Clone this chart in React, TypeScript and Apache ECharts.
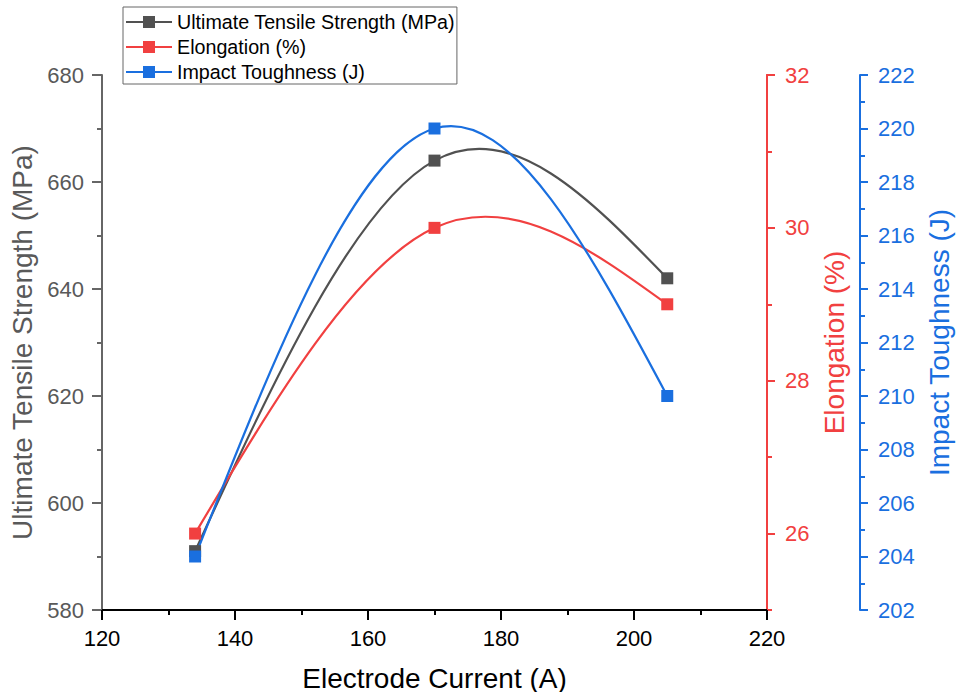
import React, { useEffect, useRef } from "react";
import * as echarts from "echarts";

const current = [134, 170, 205];
const uts = [591, 664, 642];
const elongation = [26.0, 30.0, 29.0];
const impact = [204, 220, 210];

const seriesNames = ["Ultimate Tensile Strength (MPa)", "Elongation (%)", "Impact Toughness (J)"];
const xTicks = { min: 120, max: 220, interval: 20 };
const utsTicks = { min: 580, max: 680, interval: 20 };
const elongTicks = { min: 25, max: 32, major: [26, 28, 30, 32] };
const impactTicks = { min: 202, max: 222, interval: 2 };

const C_GRAY = "#515151";
const C_RED = "#F14040";
const C_BLUE = "#1A6FDF";
const FONT = "'Liberation Sans', Arial, sans-serif";

// Natural cubic spline through the points, returned as cubic Bezier segments (data space)
function splineSegments(xs: number[], ys: number[]) {
  const n = xs.length;
  const h: number[] = [];
  const M: number[] = new Array(n).fill(0);
  for (let i = 0; i < n - 1; i++) h[i] = xs[i + 1] - xs[i];
  if (n > 2) {
    const a: number[] = [], b: number[] = [], c: number[] = [], d: number[] = [];
    for (let i = 1; i < n - 1; i++) {
      a.push(h[i - 1]);
      b.push(2 * (h[i - 1] + h[i]));
      c.push(h[i]);
      d.push(6 * ((ys[i + 1] - ys[i]) / h[i] - (ys[i] - ys[i - 1]) / h[i - 1]));
    }
    const m = b.length;
    for (let i = 1; i < m; i++) {
      const w = a[i] / b[i - 1];
      b[i] -= w * c[i - 1];
      d[i] -= w * d[i - 1];
    }
    const sol: number[] = new Array(m);
    sol[m - 1] = d[m - 1] / b[m - 1];
    for (let i = m - 2; i >= 0; i--) sol[i] = (d[i] - c[i] * sol[i + 1]) / b[i];
    for (let i = 0; i < m; i++) M[i + 1] = sol[i];
  }
  const segs: number[][][] = [];
  for (let i = 0; i < n - 1; i++) {
    const hi = h[i];
    const s = (ys[i + 1] - ys[i]) / hi;
    const d0 = s - (hi * (2 * M[i] + M[i + 1])) / 6;
    const d1 = s + (hi * (M[i] + 2 * M[i + 1])) / 6;
    segs.push([
      [xs[i], ys[i]],
      [xs[i] + hi / 3, ys[i] + (d0 * hi) / 3],
      [xs[i + 1] - hi / 3, ys[i + 1] - (d1 * hi) / 3],
      [xs[i + 1], ys[i + 1]],
    ]);
  }
  return segs;
}

export default function App() {
  const ref = useRef<HTMLDivElement>(null);
  useEffect(() => {
    if (!ref.current) return;
    const chart = echarts.init(ref.current, null, { renderer: "svg" });
    const pairs = (ys: number[]) => current.map((x, i) => [x, ys[i]]);

    const curveSeries = (name: string, data: number[], color: string, yAxisIndex: number) => {
      const segs = splineSegments(current, data);
      return {
        name: name + " curve",
        type: "custom",
        yAxisIndex,
        silent: true,
        data: [[current[0], data[0]]],
        renderItem: (_params: any, api: any) => ({
          type: "group",
          children: segs.map((sg) => {
            const p = sg.map((q) => api.coord(q));
            return {
              type: "bezierCurve",
              shape: {
                x1: p[0][0], y1: p[0][1],
                cpx1: p[1][0], cpy1: p[1][1],
                cpx2: p[2][0], cpy2: p[2][1],
                x2: p[3][0], y2: p[3][1],
              },
              style: { stroke: color, lineWidth: 2.2, fill: "none" },
            };
          }),
        }),
      };
    };

    const pointSeries = (name: string, data: number[], color: string, yAxisIndex: number) => ({
      name,
      type: "line",
      yAxisIndex,
      data: pairs(data),
      symbol: "rect",
      symbolSize: 12,
      itemStyle: { color },
      lineStyle: { color, width: 2, opacity: 0 },
    });

    const axisCommon = (color: string, labelColor: string, tickLen: number) => ({
      type: "value",
      splitLine: { show: false },
      axisLine: { show: true, onZero: false, lineStyle: { color, width: 2 } },
      axisTick: { show: true, inside: false, length: tickLen, lineStyle: { color, width: 2 } },
      minorTick: { show: true, splitNumber: 2, length: 5, lineStyle: { color, width: 2 } },
      axisLabel: { color: labelColor, fontSize: 22, fontFamily: FONT, margin: 18 },
      nameLocation: "middle",
      nameTextStyle: { color: labelColor, fontSize: 28, fontFamily: FONT },
    });

    chart.setOption({
      animation: false,
      backgroundColor: "#ffffff",
      textStyle: { fontFamily: FONT },
      grid: { left: 102, right: 195, top: 75, bottom: 82, outerBoundsMode: "none", containLabel: false },
      legend: {
        orient: "vertical",
        left: 123,
        top: 7,
        padding: [4, 2, 1, 2],
        itemGap: 3,
        itemWidth: 46,
        itemHeight: 15,
        borderColor: "#666",
        borderWidth: 1,
        borderRadius: 0,
        lineStyle: { opacity: 1, width: 2 },
        textStyle: { color: "#000", fontSize: 19.7, fontFamily: FONT, lineHeight: 22 },
        data: seriesNames,
      },
      xAxis: {
        ...axisCommon("#000", "#000", 10),
        min: xTicks.min,
        max: xTicks.max,
        interval: xTicks.interval,
        axisLabel: { color: "#000", fontSize: 22, fontFamily: FONT, margin: 17 },
        name: "Electrode Current (A)",
        nameGap: 54,
      },
      yAxis: [
        {
          ...axisCommon("#666", "#595959", 10),
          position: "left",
          min: utsTicks.min,
          max: utsTicks.max,
          interval: utsTicks.interval,
          name: seriesNames[0],
          nameGap: 60,
        },
        {
          ...axisCommon(C_RED, C_RED, 5),
          position: "right",
          offset: 0,
          min: elongTicks.min,
          max: elongTicks.max,
          interval: 1,
          minorTick: { show: false },
          axisLabel: {
            color: C_RED,
            fontSize: 22,
            fontFamily: FONT,
            margin: 18,
            formatter: (v: number) => (elongTicks.major.includes(v) ? String(v) : ""),
          },
          name: seriesNames[1],
          nameGap: 50,
        },
        {
          ...axisCommon(C_BLUE, C_BLUE, 8),
          position: "right",
          offset: 93,
          min: impactTicks.min,
          max: impactTicks.max,
          interval: impactTicks.interval,
          name: seriesNames[2],
          nameGap: 64,
        },
        {
          type: "value",
          position: "right",
          offset: 0,
          min: elongTicks.min,
          max: elongTicks.max,
          splitLine: { show: false },
          axisLine: { show: true, onZero: false, lineStyle: { color: C_RED, width: 2 } },
          axisTick: {
            show: true,
            inside: false,
            length: 8,
            customValues: elongTicks.major,
            lineStyle: { color: C_RED, width: 2 },
          },
          axisLabel: { show: false },
        },
      ],
      series: [
        curveSeries(seriesNames[0], uts, C_GRAY, 0),
        curveSeries(seriesNames[1], elongation, C_RED, 1),
        curveSeries(seriesNames[2], impact, C_BLUE, 2),
        pointSeries(seriesNames[0], uts, C_GRAY, 0),
        pointSeries(seriesNames[1], elongation, C_RED, 1),
        pointSeries(seriesNames[2], impact, C_BLUE, 2),
      ],
    });
    return () => chart.dispose();
  }, []);
  return (
    <div
      ref={ref}
      style={{ position: "fixed", left: 0, top: 0, width: 962, height: 692, background: "#fff" }}
    />
  );
}
